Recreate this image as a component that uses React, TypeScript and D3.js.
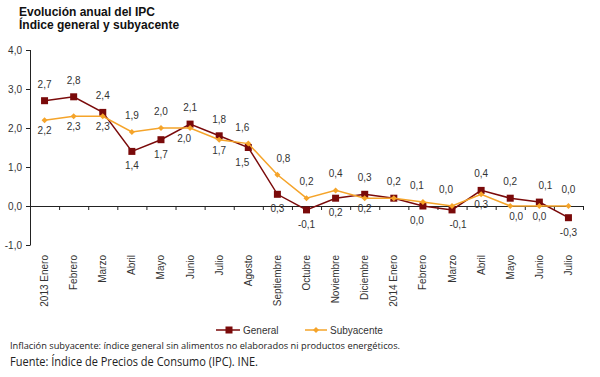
import React from "react";
import * as d3 from "d3";

const categories = [
  "2013 Enero", "Febrero", "Marzo", "Abril", "Mayo", "Junio", "Julio", "Agosto",
  "Septiembre", "Octubre", "Noviembre", "Diciembre", "2014 Enero", "Febrero",
  "Marzo", "Abril", "Mayo", "Junio", "Julio",
];
const general = [2.7, 2.8, 2.4, 1.4, 1.7, 2.1, 1.8, 1.5, 0.3, -0.1, 0.2, 0.3, 0.2, 0.0, -0.1, 0.4, 0.2, 0.1, -0.3];
const subyacente = [2.2, 2.3, 2.3, 1.9, 2.0, 2.0, 1.7, 1.6, 0.8, 0.2, 0.4, 0.2, 0.2, 0.1, 0.0, 0.3, 0.0, 0.0, 0.0];
const yTicks = [-1, 0, 1, 2, 3, 4];
// label placement codes: a = above, b = below, l/r = shifted left/right, n = none
const generalLabelPos = ["a", "a", "a", "b", "b", "a", "a", "bl", "b", "b", "b", "a", "a", "bl", "br", "a", "a", "ar", "b"];
const subLabelPos = ["b", "b", "b", "a", "a", "bl", "b", "al", "ar", "a", "a", "b", "n", "al", "al", "b", "br", "b", "a"];

const W = 600, H = 377;
const FONT = "'Liberation Sans', Arial, sans-serif";
const C_GEN = "#7a0a0a";
const C_SUB = "#f5a42a";

const fmt = (v: number) => d3.format(".1f")(v).replace(".", ",").replace("−", "-");

export default function App() {
  const x = d3.scaleBand<number>().domain(d3.range(categories.length)).range([30, 583]).padding(0);
  const cx = (i: number) => (x(i) as number) + x.bandwidth() / 2;
  const y = d3.scaleLinear().domain([-1, 4]).range([245, 50]);
  const line = d3.line<number>().x((_, i) => cx(i)).y((v) => y(v));

  const labelFor = (v: number, i: number, pos: string, key: string, belowOff: number) => {
    if (pos === "n") return null;
    const above = pos[0] === "a";
    const dx = pos[1] === "l" ? -6 : pos[1] === "r" ? 6 : 0;
    const yy = above ? y(v) - 13 : y(v) + belowOff;
    return (
      <text key={key} x={cx(i) + dx} y={yy} textAnchor="middle" fontSize={10} fill="#333" fontFamily={FONT}>
        {fmt(v)}
      </text>
    );
  };

  return (
    <svg width={W} height={H} style={{ position: "absolute", left: 0, top: 0, background: "#fff" }}>
      <rect width={W} height={H} fill="#fff" />
      <text x={19} y={16} fontFamily={FONT} fontWeight="bold" fontSize={12} fill="#111">Evolución anual del IPC</text>
      <text x={19} y={29} fontFamily={FONT} fontWeight="bold" fontSize={12} fill="#111">Índice general y subyacente</text>

      {/* y axis */}
      <line x1={30.5} x2={30.5} y1={y(4)} y2={y(-1)} stroke="#222" strokeWidth={1} />
      {yTicks.map((t) => (
        <g key={t}>
          <line x1={26} x2={30.5} y1={y(t) + 0.5} y2={y(t) + 0.5} stroke="#222" />
          <text x={22} y={y(t) + 3.5} textAnchor="end" fontSize={10} fill="#333" fontFamily={FONT}>{fmt(t)}</text>
        </g>
      ))}
      {/* x axis at zero */}
      <line x1={30} x2={583} y1={y(0) + 0.5} y2={y(0) + 0.5} stroke="#222" />
      {d3.range(categories.length + 1).map((i) => {
        const xx = i < categories.length ? (x(i) as number) : 583;
        return <line key={i} x1={xx + 0.5} x2={xx + 0.5} y1={y(0)} y2={y(0) + 4} stroke="#222" />;
      })}
      {categories.map((c, i) => (
        <text key={i} transform={`translate(${cx(i) + 3.5},255) rotate(-90)`} textAnchor="end" fontSize={10} fill="#333" fontFamily={FONT}>
          {c}
        </text>
      ))}

      {/* series */}
      <path d={line(general) || ""} fill="none" stroke={C_GEN} strokeWidth={1.5} />
      {general.map((v, i) => (
        <rect key={i} x={cx(i) - 3.5} y={y(v) - 3.5} width={7} height={7} fill={C_GEN} />
      ))}
      <path d={line(subyacente) || ""} fill="none" stroke={C_SUB} strokeWidth={1.5} />
      {subyacente.map((v, i) => (
        <path key={i} d={`M${cx(i)},${y(v) - 3}L${cx(i) + 3},${y(v)}L${cx(i)},${y(v) + 3}L${cx(i) - 3},${y(v)}Z`} fill={C_SUB} />
      ))}

      {general.map((v, i) => labelFor(v, i, generalLabelPos[i], "g" + i, 18))}
      {subyacente.map((v, i) => labelFor(v, i, subLabelPos[i], "s" + i, 14))}

      {/* legend */}
      <line x1={216} x2={240} y1={330} y2={330} stroke={C_GEN} strokeWidth={1.5} />
      <rect x={225.5} y={326.5} width={7} height={7} fill={C_GEN} />
      <text x={243} y={333.5} fontSize={10} fill="#333" fontFamily={FONT}>General</text>
      <line x1={305} x2={327} y1={330} y2={330} stroke={C_SUB} strokeWidth={1.5} />
      <path d="M316,327L319,330L316,333L313,330Z" fill={C_SUB} />
      <text x={330} y={333.5} fontSize={10} fill="#333" fontFamily={FONT}>Subyacente</text>

      <text x={10} y={349} fontSize={9.5} fill="#222" fontFamily="'Open Sans', sans-serif" textLength={390} lengthAdjust="spacingAndGlyphs">
        Inflación subyacente: índice general sin alimentos no elaborados ni productos energéticos.
      </text>
      <text x={10} y={366} fontSize={12} fill="#222" fontFamily="'Open Sans', sans-serif" textLength={248} lengthAdjust="spacingAndGlyphs">
        Fuente: Índice de Precios de Consumo (IPC). INE.
      </text>
    </svg>
  );
}
